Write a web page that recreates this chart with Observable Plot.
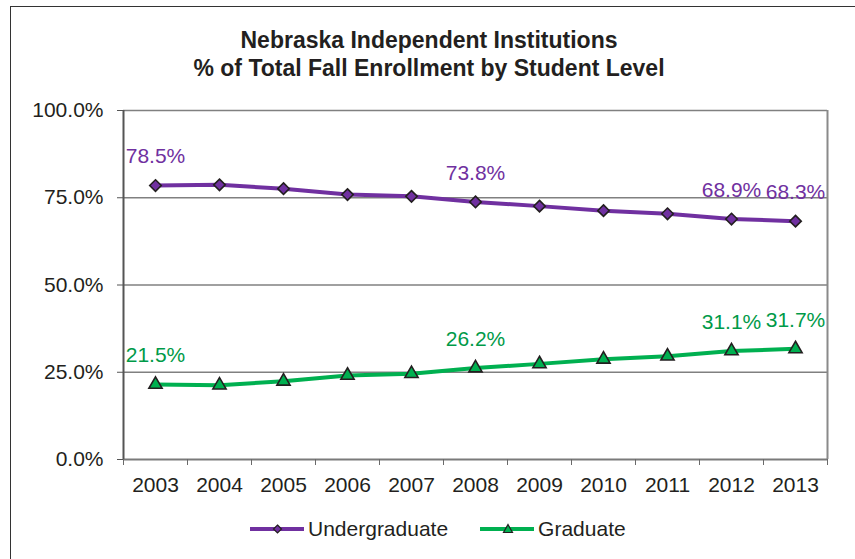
<!DOCTYPE html>
<html>
<head>
<meta charset="utf-8">
<script src="https://cdn.jsdelivr.net/npm/d3@7"></script>
<script src="https://cdn.jsdelivr.net/npm/@observablehq/plot@0.6"></script>
<style>
html, body { margin: 0; padding: 0; background: #fff; overflow: hidden; }
#wrap { position: relative; width: 855px; height: 559px; font-family: "Liberation Sans", Arial, sans-serif; color: #231f20; overflow: hidden; }
#border { position: absolute; left: 10px; top: 6px; width: 900px; height: 600px; border: 1.5px solid #333; box-sizing: border-box; }
#title { position: absolute; left: 0; top: 27px; width: 858px; text-align: center; font-weight: bold; font-size: 23px; line-height: 27.6px; }
#chart { position: absolute; left: 0; top: 83px; }
#legend { position: absolute; left: 250px; top: 517px; display: flex; align-items: center; font-size: 21px; line-height: 24px; }
#legend svg { display: block; }
</style>
</head>
<body>
<div id="wrap">
  <div id="border"></div>
  <div id="title">Nebraska Independent Institutions<br>% of Total Fall Enrollment by Student Level</div>
  <div id="chart"></div>
  <div id="legend"></div>
</div>
<script>
const years = [2003, 2004, 2005, 2006, 2007, 2008, 2009, 2010, 2011, 2012, 2013];
const undergraduate = [78.5, 78.7, 77.6, 75.9, 75.4, 73.8, 72.6, 71.3, 70.4, 68.9, 68.3];
const graduate = [21.5, 21.3, 22.4, 24.1, 24.6, 26.2, 27.4, 28.7, 29.6, 31.1, 31.7];
const labelYears = [2003, 2008, 2012, 2013];
const yTicks = [0, 25, 50, 75, 100];
const seriesNames = ["Undergraduate", "Graduate"];
const lineColors = ["#7030A0", "#00B050"];
const labelColors = ["#7030A0", "#009A48"];
const symbols = ["diamond2", "triangle"];

const rows = (name, vals) => years.map((year, i) => ({ year, series: name, value: vals[i] }));
const ug = rows(seriesNames[0], undergraduate);
const gr = rows(seriesNames[1], graduate);
const xDomain = [years[0] - 0.5, years[years.length - 1] + 0.5];
const boundaries = [...years.map(y => y - 0.5), years[years.length - 1] + 0.5];
const pct = d => d.toFixed(1) + "%";

const seriesMarks = (data, k) => [
  Plot.line(data, { x: "year", y: "value", stroke: lineColors[k], strokeWidth: 4 }),
  Plot.dot(data, { x: "year", y: "value", symbol: symbols[k], r: k === 0 ? 5.2 : 4.9, fill: lineColors[k], stroke: "#231f20", strokeWidth: 1.6 }),
  Plot.text(data.filter(d => labelYears.includes(d.year)), { x: "year", y: "value", text: d => pct(d.value), dy: -29, fill: labelColors[k], fontSize: 21 })
];

const chart = Plot.plot({
  width: 855,
  height: 420,
  marginLeft: 123,
  marginRight: 28,
  marginTop: 27,
  marginBottom: 44,
  style: { fontFamily: '"Liberation Sans", Arial, sans-serif', fontSize: "21px", color: "#231f20", background: "transparent" },
  x: { type: "linear", domain: xDomain },
  y: { domain: [0, 100] },
  marks: [
    Plot.gridY(yTicks.filter(t => t > 0), { stroke: "#808080", strokeOpacity: 1, strokeWidth: 1.5 }),
    Plot.ruleX([xDomain[1]], { stroke: "#8a8a8a", strokeWidth: 2 }),
    Plot.ruleY([0], { stroke: "#7a7a7a", strokeWidth: 2 }),
    Plot.ruleX([xDomain[0]], { stroke: "#555", strokeWidth: 2 }),
    Plot.axisY({ ticks: yTicks, tickFormat: pct, tickSize: 6, tickPadding: 14, stroke: "#555", fontSize: 21, label: null }),
    Plot.axisX({ ticks: boundaries, tickFormat: () => "", tickSize: 6, stroke: "#6a6a6a", label: null }),
    Plot.axisX({ ticks: years, tickFormat: d => String(d), tickSize: 0, tickPadding: 18, fontSize: 21, label: null }),
    ...seriesMarks(ug, 0),
    ...seriesMarks(gr, 1)
  ]
});
document.getElementById("chart").appendChild(chart);

// legend
const legend = document.getElementById("legend");
seriesNames.forEach((name, k) => {
  const ns = "http://www.w3.org/2000/svg";
  const svg = document.createElementNS(ns, "svg");
  svg.setAttribute("width", 54);
  svg.setAttribute("height", 24);
  const line = document.createElementNS(ns, "line");
  line.setAttribute("x1", 0); line.setAttribute("x2", 54);
  line.setAttribute("y1", 12); line.setAttribute("y2", 12);
  line.setAttribute("stroke", lineColors[k]); line.setAttribute("stroke-width", 4);
  svg.appendChild(line);
  const marker = document.createElementNS(ns, "polygon");
  marker.setAttribute("points", k === 0 ? "27.5,8 31.5,12 27.5,16 23.5,12" : "28,7.5 32.5,15.5 23.5,15.5");
  marker.setAttribute("fill", lineColors[k]);
  marker.setAttribute("stroke", "#231f20");
  marker.setAttribute("stroke-width", 1.2);
  svg.appendChild(marker);
  legend.appendChild(svg);
  const span = document.createElement("span");
  span.textContent = name;
  span.style.marginLeft = "4px";
  span.style.marginRight = k === 0 ? "32px" : "0";
  legend.appendChild(span);
});
</script>
</body>
</html>
